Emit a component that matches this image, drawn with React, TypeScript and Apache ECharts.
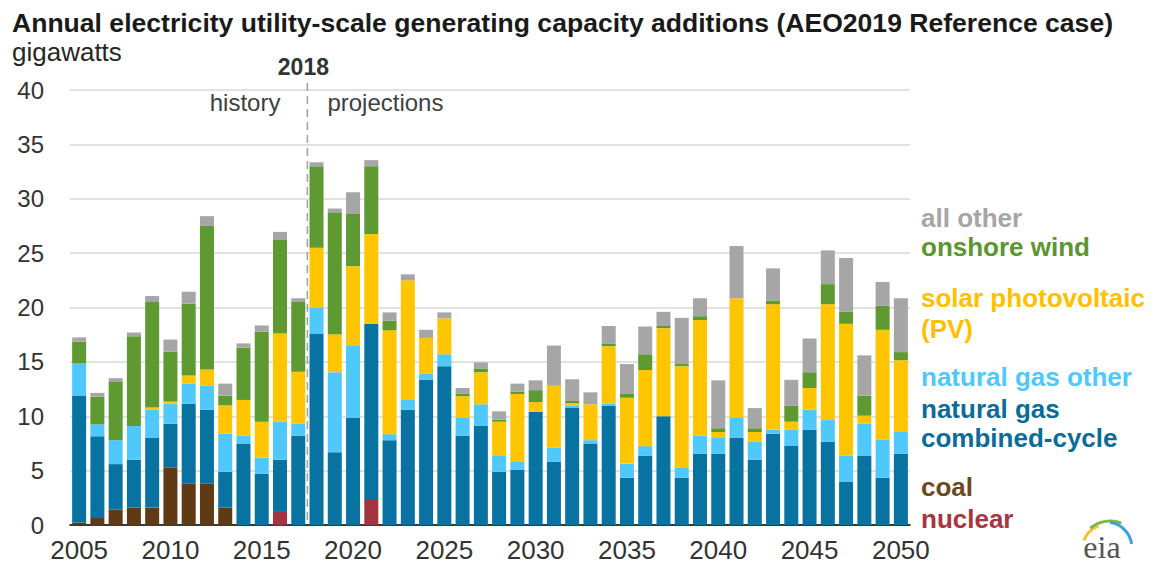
import React, { useEffect, useRef } from "react";
import * as echarts from "echarts";

const years = [
  "2005", "2006", "2007", "2008", "2009", "2010", "2011", "2012", "2013", "2014",
  "2015", "2016", "2017", "2018", "2019", "2020", "2021", "2022", "2023", "2024",
  "2025", "2026", "2027", "2028", "2029", "2030", "2031", "2032", "2033", "2034",
  "2035", "2036", "2037", "2038", "2039", "2040", "2041", "2042", "2043", "2044",
  "2045", "2046", "2047", "2048", "2049", "2050",
];

const nuclear = [
  0, 0, 0, 0, 0, 0, 0, 0, 0, 0,
  0, 1.2, 0, 0, 0, 0, 2.3, 0, 0, 0,
  0, 0, 0, 0, 0, 0, 0, 0, 0, 0,
  0, 0, 0, 0, 0, 0, 0, 0, 0, 0,
  0, 0, 0, 0, 0, 0,
];

const coal = [
  0.2, 0.65, 1.4, 1.6, 1.6, 5.3, 3.8, 3.8, 1.6, 0,
  0, 0, 0, 0, 0, 0, 0, 0, 0, 0,
  0, 0, 0, 0, 0, 0, 0, 0, 0, 0,
  0, 0, 0, 0, 0, 0, 0, 0, 0, 0,
  0, 0, 0, 0, 0, 0,
];

const gasCombinedCycle = [
  11.7, 7.5, 4.2, 4.4, 6.4, 4.0, 7.35, 6.8, 3.3, 7.5,
  4.7, 4.8, 8.2, 17.6, 6.7, 9.85, 16.2, 7.8, 10.6, 13.35,
  14.6, 8.2, 9.1, 4.9, 5.1, 10.4, 5.8, 10.8, 7.45, 10.95,
  4.35, 6.35, 10.0, 4.35, 6.55, 6.55, 8.0, 6.0, 8.4, 7.3,
  8.75, 7.65, 4.0, 6.35, 4.35, 6.55,
];

const gasOther = [
  2.95, 1.1, 2.2, 3.1, 2.6, 1.85, 1.85, 2.2, 3.5, 0.7,
  1.5, 3.5, 1.1, 2.4, 7.35, 6.6, 0, 0.55, 0.9, 0.55,
  1.1, 1.65, 2.0, 1.45, 0.7, 0, 1.3, 0.2, 0.35, 0.2,
  1.3, 0.9, 0, 0.9, 1.65, 1.45, 1.85, 1.65, 0.35, 1.45,
  1.85, 2.0, 2.4, 2.95, 3.5, 2.0,
];

const solarPV = [
  0, 0, 0, 0, 0.2, 0.2, 0.75, 1.5, 2.6, 3.3,
  3.3, 8.1, 4.8, 5.5, 3.5, 7.35, 8.25, 9.55, 11.0, 3.3,
  3.3, 2.0, 2.95, 3.15, 6.25, 0.9, 5.7, 0.2, 3.3, 5.3,
  6.05, 7.0, 8.1, 9.35, 10.65, 0.55, 11.0, 0.9, 11.55, 0.75,
  2.0, 10.65, 12.1, 0.75, 10.1, 6.6,
];

const onshoreWind = [
  2.0, 2.55, 5.35, 8.25, 9.7, 4.6, 6.6, 13.2, 0.9, 4.8,
  8.3, 8.6, 6.4, 7.5, 11.2, 4.8, 6.25, 0.9, 0, 0,
  0, 0.2, 0.35, 0.2, 0.2, 1.1, 0, 0.2, 0, 0.2,
  0.35, 1.45, 0.2, 0.2, 0.35, 0.35, 0, 0.35, 0.35, 1.45,
  1.45, 1.85, 1.1, 1.85, 2.2, 0.75,
];

const allOther = [
  0.4, 0.35, 0.35, 0.35, 0.55, 1.1, 1.1, 0.9, 1.1, 0.4,
  0.55, 0.75, 0.35, 0.35, 0.35, 2.0, 0.55, 0.75, 0.55, 0.75,
  0.55, 0.55, 0.55, 0.75, 0.75, 0.9, 3.7, 2.0, 1.1, 1.65,
  2.75, 2.55, 1.3, 4.25, 1.65, 4.4, 4.8, 1.85, 2.95, 2.4,
  3.1, 3.1, 4.95, 3.7, 2.2, 4.95,
];

const yTicks = [0, 40, 5];

const C = {
  nuclear: "#a3333f",
  coal: "#603a15",
  ngcc: "#0872a1",
  ngo: "#4fc8fb",
  solar: "#ffc600",
  wind: "#5e9932",
  other: "#a6a6a6",
};

const legendItems = [
  { text: "all other", y: 218, color: "#a6a6a6" },
  { text: "onshore wind", y: 247, color: "#5a9631" },
  { text: "solar photovoltaic", y: 298, color: "#ffc000" },
  { text: "(PV)", y: 329, color: "#ffc000" },
  { text: "natural gas other", y: 377, color: "#4fc8fb" },
  { text: "natural gas", y: 409, color: "#0a6c98" },
  { text: "combined-cycle", y: 438, color: "#0a6c98" },
  { text: "coal", y: 487, color: "#6b4820" },
  { text: "nuclear", y: 519, color: "#a8353f" },
];

export default function App() {
  const ref = useRef<HTMLDivElement>(null);
  useEffect(() => {
    const chart = echarts.init(ref.current!, null, { renderer: "svg" });
    const font = "'Liberation Sans', Arial, Helvetica, sans-serif";
    const mk = (name: string, data: number[], color: string) => ({
      type: "bar",
      name,
      stack: "total",
      data,
      barWidth: 14,
      itemStyle: { color },
      emphasis: { disabled: true },
    });
    chart.setOption({
      animation: false,
      textStyle: { fontFamily: font },
      grid: { left: 70, right: 245, top: 90, bottom: 44, containLabel: false },
      xAxis: {
        type: "category",
        data: years,
        boundaryGap: true,
        axisLine: { lineStyle: { color: "#000", width: 1.5 } },
        axisTick: { interval: 4, length: 6, lineStyle: { color: "#000", width: 1.5 } },
        axisLabel: { interval: 4, fontSize: 26, color: "#333", margin: 12, fontFamily: font },
        splitLine: { show: false },
      },
      yAxis: {
        type: "value",
        min: yTicks[0],
        max: yTicks[1],
        interval: yTicks[2],
        axisLine: { show: false },
        axisTick: { show: false },
        axisLabel: { fontSize: 24, color: "#333", margin: 26, fontFamily: font },
        splitLine: { lineStyle: { color: "#d9d9d9", width: 1.5 } },
      },
      series: [
        mk("nuclear", nuclear, C.nuclear),
        mk("coal", coal, C.coal),
        mk("natural gas combined-cycle", gasCombinedCycle, C.ngcc),
        mk("natural gas other", gasOther, C.ngo),
        mk("solar photovoltaic (PV)", solarPV, C.solar),
        mk("onshore wind", onshoreWind, C.wind),
        mk("all other", allOther, C.other),
      ],
    });

    const x17 = chart.convertToPixel({ xAxisIndex: 0 }, "2017") as number;
    const x18 = chart.convertToPixel({ xAxisIndex: 0 }, "2018") as number;
    const bx = (x17 + x18) / 2;
    const yTop = chart.convertToPixel({ yAxisIndex: 0 }, 40) as number;
    const y0 = chart.convertToPixel({ yAxisIndex: 0 }, 0) as number;

    const graphics: any[] = [
      {
        type: "text",
        x: 12,
        y: 23,
        scaleX: 1.063,
        style: {
          text: "Annual electricity utility-scale generating capacity additions (AEO2019 Reference case)",
          x: 0, y: 0, fill: "#1a1a1a", fontSize: 25, fontWeight: "bold",
          fontFamily: font, align: "left", verticalAlign: "middle",
        },
      },
      {
        type: "text",
        style: {
          text: "gigawatts", x: 12, y: 52, fill: "#262626", fontSize: 26,
          fontFamily: font, align: "left", verticalAlign: "middle",
        },
      },
      {
        type: "line",
        z: 10,
        shape: { x1: bx, y1: yTop - 7, x2: bx, y2: y0 },
        style: { stroke: "#a0a0a0", lineWidth: 1.5, lineDash: [8, 5] },
      },
      {
        type: "text",
        style: {
          text: "2018", x: bx - 4, y: 67, fill: "#333", fontSize: 23, fontWeight: "bold",
          fontFamily: font, align: "center", verticalAlign: "middle",
        },
      },
      {
        type: "text",
        style: {
          text: "history", x: bx - 27, y: 102, fill: "#404040", fontSize: 24,
          fontFamily: font, align: "right", verticalAlign: "middle",
        },
      },
      {
        type: "text",
        style: {
          text: "projections", x: bx + 20, y: 102, fill: "#404040", fontSize: 24,
          fontFamily: font, align: "left", verticalAlign: "middle",
        },
      },
      ...legendItems.map((it) => ({
        type: "text",
        style: {
          text: it.text, x: 921, y: it.y, fill: it.color, fontSize: 26, fontWeight: "bold",
          fontFamily: font, align: "left", verticalAlign: "middle",
        },
      })),
      {
        type: "arc",
        shape: { cx: 1108, cy: 550, r: 26, startAngle: -Math.PI * 0.88, endAngle: -Math.PI * 0.62 },
        style: { stroke: "#f2c230", lineWidth: 3, fill: null },
      },
      {
        type: "arc",
        shape: { cx: 1110, cy: 552, r: 31, startAngle: -Math.PI * 0.72, endAngle: -Math.PI * 0.38 },
        style: { stroke: "#7ab648", lineWidth: 3, fill: null },
      },
      {
        type: "arc",
        shape: { cx: 1106, cy: 548, r: 26, startAngle: -Math.PI * 0.45, endAngle: -Math.PI * 0.05 },
        style: { stroke: "#3ba3dc", lineWidth: 3, fill: null },
      },
      {
        type: "text",
        style: {
          text: "eia", x: 1102, y: 547, fill: "#555", fontSize: 32,
          fontFamily: "'Liberation Serif', 'DejaVu Serif', serif", align: "center", verticalAlign: "middle",
        },
      },
    ];
    chart.setOption({ graphic: graphics });
    return () => chart.dispose();
  }, []);
  return (
    <div
      ref={ref}
      style={{ position: "absolute", left: 0, top: 0, width: 1155, height: 569 }}
    />
  );
}
